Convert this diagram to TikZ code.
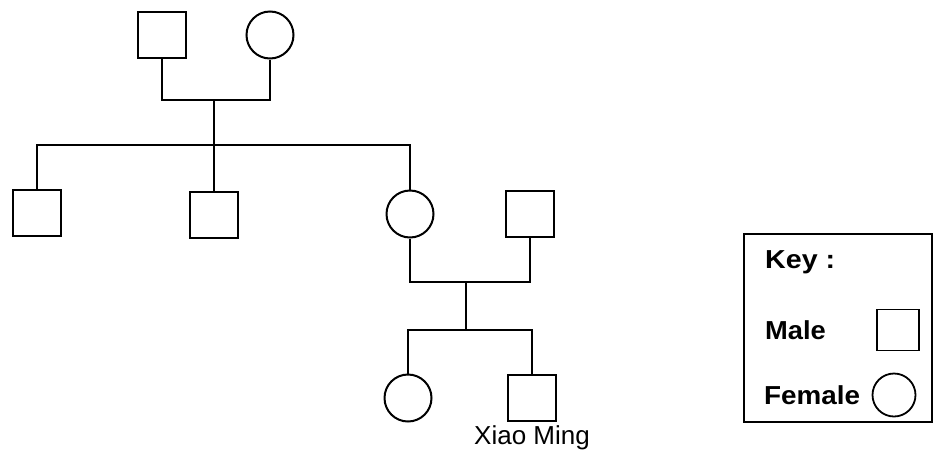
\documentclass[tikz,border=0pt]{standalone}
\usepackage{fontspec}
\setmainfont{Liberation Sans}
\begin{document}
\begin{tikzpicture}[x=1pt,y=-1pt,
  male/.style={draw, line width=2.2pt, rectangle, minimum width=48pt, minimum height=46pt, inner sep=0pt},
  female/.style={draw, line width=2pt, circle, minimum size=47pt, inner sep=0pt},
  link/.style={line width=2.6pt},
  lbl/.style={font=\fontsize{26}{30}\selectfont, inner sep=0pt},
  keylbl/.style={font=\bfseries\fontsize{26}{30}\selectfont, inner sep=0pt, anchor=west}]
\useasboundingbox (0,0) rectangle (934,464);
% grandparents
\node[male] (gf) at (162,35) {};
\node[female] (gm) at (270,35) {};
\coordinate (gp) at (214,100);
\coordinate (sib) at (214,145);
\draw[link] (gf.south) |- (gp) -| (gm.south);
\draw[link] (gp) -- (sib);
% children
\node[male] (c1) at (37,213) {};
\node[male] (c2) at (214,215) {};
\node[female] (mo) at (410,214) {};
\node[male] (fa) at (530,214) {};
\draw[link] (c1.north) |- (sib) -| (mo.north);
\draw[link] (sib) -- (c2.north);
% couple
\coordinate (cp) at (466,282);
\coordinate (sib2) at (466,330);
\draw[link] (mo.south) |- (cp) -| (fa.south);
\draw[link] (cp) -- (sib2);
% grandchildren
\node[female] (da) at (408,398) {};
\node[male] (xm) at (532,398) {};
\draw[link] (da.north) |- (sib2) -| (xm.north);
\node[lbl] (xml) at (532,438) {Xiao Ming};
% key
\node[draw, line width=1.8pt, minimum width=188pt, minimum height=188pt, inner sep=0pt] (key) at (838,328) {};
\node[keylbl] (keyt) at (765,262) {\scalebox{1.1}[1]{Key :}};
\node[keylbl] (malet) at (765,330) {\scalebox{1.05}[1]{Male}};
\node[keylbl] (femt) at (764,395) {\scalebox{1.07}[1]{Female}};
\node[male, line width=1.8pt, minimum width=42pt, minimum height=41pt] (ksq) at (898,330) {};
\node[female, line width=1.8pt, minimum size=43pt] (kci) at (894,395) {};
\end{tikzpicture}
\end{document}
